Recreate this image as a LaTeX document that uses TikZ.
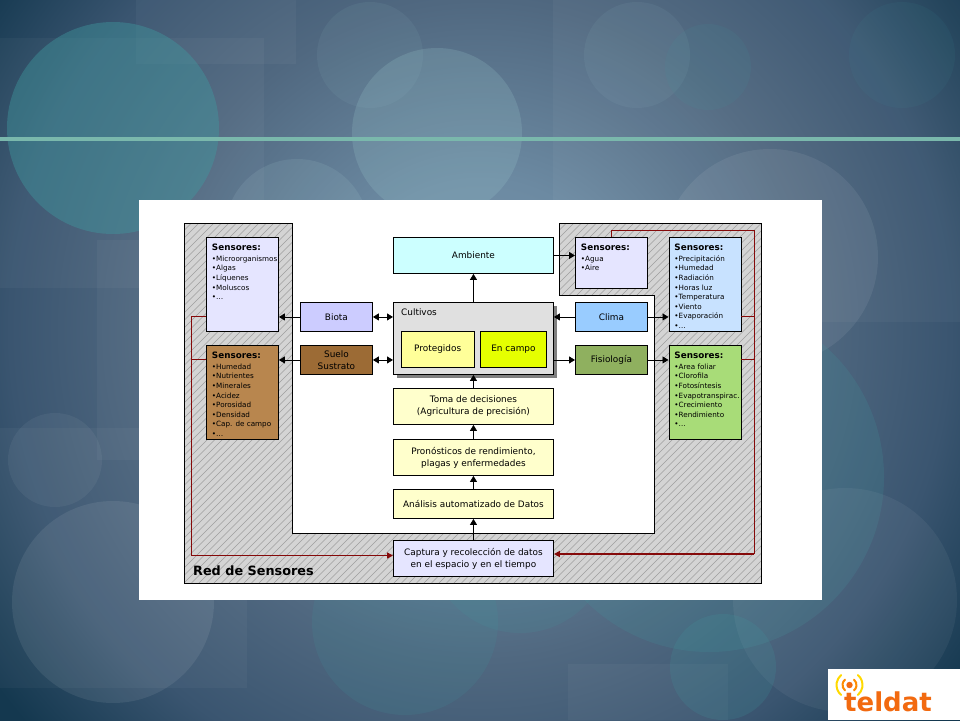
\documentclass[tikz,border=0pt]{standalone}
\usepackage{fontspec}
\setmainfont{DejaVu Sans}
\usetikzlibrary{arrows.meta}
\definecolor{stA}{HTML}{7A96AC}
\definecolor{stB}{HTML}{6C8AA2}
\definecolor{stC}{HTML}{506880}
\definecolor{stD}{HTML}{3A5570}
\definecolor{stE}{HTML}{14384F}
\definecolor{cAmb}{HTML}{CCFFFF}
\definecolor{cBiota}{HTML}{CCCCFF}
\definecolor{cSuelo}{HTML}{9C6B35}
\definecolor{cSSuelo}{HTML}{B8864E}
\definecolor{cClima}{HTML}{99CCFF}
\definecolor{cSClima}{HTML}{C8E2FF}
\definecolor{cFisio}{HTML}{8FB05F}
\definecolor{cSFisio}{HTML}{A8DC78}
\definecolor{cLila}{HTML}{E5E5FF}
\definecolor{cProt}{HTML}{FFFF99}
\definecolor{cCampo}{HTML}{E5FF00}
\definecolor{cCrema}{HTML}{FFFFCC}
\definecolor{cGris}{HTML}{E0E0E0}
\definecolor{cSombra}{HTML}{808080}
\definecolor{cRojo}{HTML}{850A0A}
\definecolor{cStripe}{HTML}{7AB8AC}
\definecolor{cTeal}{HTML}{3F9AA0}
\definecolor{cLogo}{HTML}{F26A10}
\pgfdeclareradialshading{slidebg}{\pgfpoint{0bp}{0bp}}{color(0bp)=(stA); color(5.77bp)=(stB); color(12.7bp)=(stC); color(18.1bp)=(stD); color(23.1bp)=(stE); color(50bp)=(stE)}
\tikzset{
  x=1pt,y=-1pt,
  ghost/.style={fill=white,fill opacity=0.035,draw=none},
  boxbase/.style={draw=black,line width=0.9pt,anchor=north west,inner sep=0pt,align=center,font=\fontsize{8.9}{12}\selectfont,text=black},
  sens/.style={draw=black,line width=0.9pt,anchor=north west,inner sep=0pt,font=\fontsize{7.2}{9.6}\selectfont,text=black},
  arr/.style={line width=0.8pt,draw=black,-{Triangle[length=6pt,width=7pt]}},
  darr/.style={line width=0.8pt,draw=black,{Triangle[length=6pt,width=7pt]}-{Triangle[length=6pt,width=7pt]}},
  redln/.style={draw=cRojo,line width=1pt},
  redth/.style={draw=cRojo,line width=2pt,-{Triangle[length=6pt,width=6pt]}}
}
\newcommand{\sbody}[2]{\parbox[c][#1pt][t]{72pt}{\hyphenpenalty=10000\leftskip=5.5pt\rightskip=0pt plus 1fil\vspace*{6.5pt}{\fontsize{8.8}{9.6}\selectfont\bfseries Sensores:}\\[1.2pt]#2}}
\begin{document}
\begin{tikzpicture}
\useasboundingbox (0,0) rectangle (960,720);
\begin{scope}
\clip (0,0) rectangle (960,720);
\shade[shading=slidebg] (480,330) circle (650);
% translucent rectangles
\fill[ghost] (136,0) rectangle (296,64);
\fill[ghost] (0,38) rectangle (264,288);
\fill[ghost] (97,240) rectangle (300,460);
\fill[ghost] (0,428) rectangle (247,688);
\fill[ghost] (553,0) rectangle (960,322);
\fill[ghost] (568,664) rectangle (728,720);
% translucent discs
\fill[cTeal,fill opacity=0.42] (113,128) circle (106);
\fill[cTeal!50!white,fill opacity=0.08] (370,55) circle (53);
\fill[cTeal!50!white,fill opacity=0.20] (437,133) circle (85);
\fill[cTeal!40!white,fill opacity=0.12] (297,231) circle (72);
\fill[cTeal!50!white,fill opacity=0.08] (637,55) circle (53);
\fill[cTeal,fill opacity=0.10] (708,67) circle (43);
\fill[cTeal,fill opacity=0.08] (902,55) circle (53);
\fill[white,fill opacity=0.07] (770,257) circle (108);
\fill[cTeal,fill opacity=0.18] (709,477) circle (175);
\fill[white,fill opacity=0.05] (845,600) circle (112);
\fill[cTeal,fill opacity=0.18] (723,667) circle (53);
\fill[white,fill opacity=0.08] (113,602) circle (101);
\fill[white,fill opacity=0.05] (55,460) circle (47);
\fill[cTeal,fill opacity=0.14] (405,622) circle (93);
\fill[cTeal,fill opacity=0.14] (520,542) circle (91);
% stripe
\fill[cStripe] (0,137) rectangle (960,141);
\end{scope}
% white panel
\fill[white] (139,200) rectangle (822,600);
% hatched band
\begin{scope}
\clip (184,223) -- (292,223) -- (292,533) -- (654,533) -- (654,295) -- (559,295) -- (559,223) -- (761,223) -- (761,583) -- (184,583) -- cycle;
\fill[black!17] (184,223) rectangle (761,583);
\foreach \k in {0,7.5,...,960}{
  \draw[black!38,line width=0.5pt] (184+\k-360,583) -- (184+\k,223);
}
\end{scope}
\draw[black,line width=0.9pt] (184,223) -- (292,223) -- (292,533) -- (654,533) -- (654,295) -- (559,295) -- (559,223) -- (761,223) -- (761,583) -- (184,583) -- cycle;
\node[anchor=west,inner sep=0pt,font=\fontsize{12.8}{14}\selectfont\bfseries,text=black] (redlab) at (193,571) {Red de Sensores};
% centre boxes
\node[boxbase,fill=cAmb,minimum width=160pt,minimum height=36pt] (amb) at (393,237) {Ambiente};
\fill[cSombra] (397,306) rectangle (557,378);
\node[boxbase,fill=cGris,minimum width=160pt,minimum height=72pt] (cult) at (393,302) {};
\node[anchor=west,inner sep=0pt,font=\fontsize{8.9}{12}\selectfont,text=black] (cultlab) at (401,312) {Cultivos};
\node[boxbase,fill=cProt,minimum width=72.5pt,minimum height=36pt] (prot) at (401,331) {Protegidos};
\node[boxbase,fill=cCampo,minimum width=66pt,minimum height=36pt] (camp) at (480,331) {En campo};
\node[boxbase,fill=cCrema,minimum width=160pt,minimum height=36pt] (toma) at (393,388) {Toma de decisiones\\(Agricultura de precisión)};
\node[boxbase,fill=cCrema,minimum width=160pt,minimum height=36pt] (pron) at (393,439) {Pronósticos de rendimiento,\\plagas y enfermedades};
\node[boxbase,fill=cCrema,minimum width=160pt,minimum height=29pt] (anal) at (393,489) {Análisis automatizado de Datos};
\node[boxbase,fill=cLila,minimum width=160pt,minimum height=36pt] (capt) at (393,540) {Captura y recolección de datos\\en el espacio y en el tiempo};
% side boxes
\node[boxbase,fill=cBiota,minimum width=72pt,minimum height=29pt] (biota) at (300,302) {Biota};
\node[boxbase,fill=cSuelo,minimum width=72pt,minimum height=29pt] (suelo) at (300,345) {Suelo\\Sustrato};
\node[boxbase,fill=cClima,minimum width=72pt,minimum height=29pt] (clima) at (575,302) {Clima};
\node[boxbase,fill=cFisio,minimum width=72pt,minimum height=29pt] (fisio) at (575,345) {Fisiología};
% sensor boxes
\node[sens,fill=cLila] (sbio) at (206,237) {\sbody{94}{•Microorganismos\\•Algas\\•Líquenes\\•Moluscos\\•…}};
\node[sens,fill=cSSuelo] (ssue) at (206,345) {\sbody{94}{•Humedad\\•Nutrientes\\•Minerales\\•Acidez\\•Porosidad\\•Densidad\\•Cap. de campo\\•…}};
\node[sens,fill=cLila] (sagua) at (575,237) {\sbody{51}{•Agua\\•Aire}};
\node[sens,fill=cSClima] (scli) at (668.5,237) {\sbody{94}{•Precipitación\\•Humedad\\•Radiación\\•Horas luz\\•Temperatura\\•Viento\\•Evaporación\\•…}};
\node[sens,fill=cSFisio] (sfis) at (668.5,345) {\sbody{94}{•Area foliar\\•Clorofila\\•Fotosíntesis\\•Evapotranspirac.\\•Crecimiento\\•Rendimiento\\•…}};
% black connectors
\draw[arr] (capt.north) -- (anal.south);
\draw[arr] (anal.north) -- (pron.south);
\draw[arr] (pron.north) -- (toma.south);
\draw[arr] (toma.north) -- (cult.south);
\draw[arr] (cult.north) -- (amb.south);
\draw[arr] (amb.east) -- (amb.east -| sagua.west);
\draw[darr] (biota.east) -- (biota.east -| cult.west);
\draw[darr] (suelo.east) -- (suelo.east -| cult.west);
\draw[arr] (biota.west) -- (biota.west -| sbio.east);
\draw[arr] (suelo.west) -- (suelo.west -| ssue.east);
\draw[arr] (clima.west) -- (clima.west -| cult.east);
\draw[arr] (clima.east) -- (clima.east -| scli.west);
\draw[arr] (fisio.west -| cult.east) -- (fisio.west);
\draw[arr] (fisio.east) -- (fisio.east -| sfis.west);
% red connectors
\coordinate (rl) at (191,555.5);
\coordinate (rr) at (754,230.5);
\coordinate (rb) at (754,554);
\draw[redln] (biota.west -| sbio.west) -- (biota.west -| rl) -- (rl);
\draw[redln] (suelo.west -| ssue.west) -- (suelo.west -| rl);
\draw[redln,line width=1.4pt,-{Triangle[length=6pt,width=6pt]}] (rl) -- (rl -| capt.west);
\draw[redln] (sagua.north) -- (sagua.north |- rr) -- (rr) -- (rb);
\draw[redln] (clima.east -| scli.east) -- (clima.east -| rr);
\draw[redln] (fisio.east -| sfis.east) -- (fisio.east -| rr);
\draw[redth] (rb) -- (rb -| capt.east);
% logo
\fill[white] (828,669) rectangle (960,720);
\node[anchor=base west,inner sep=0pt,font=\fontsize{26}{28}\selectfont\bfseries,text=cLogo] (teldat) at (844,711) {teldat};
\fill[cLogo] (849.5,685) circle (3.2);
\foreach \r/\c in {7/orange!90!yellow,13/orange!30!yellow}{
  \draw[\c,line width=2pt,line cap=round] (849.5,685) ++(-50:\r) arc[start angle=-50,end angle=50,radius=\r];
  \draw[\c,line width=2pt,line cap=round] (849.5,685) ++(130:\r) arc[start angle=130,end angle=230,radius=\r];
}
\end{tikzpicture}
\end{document}
